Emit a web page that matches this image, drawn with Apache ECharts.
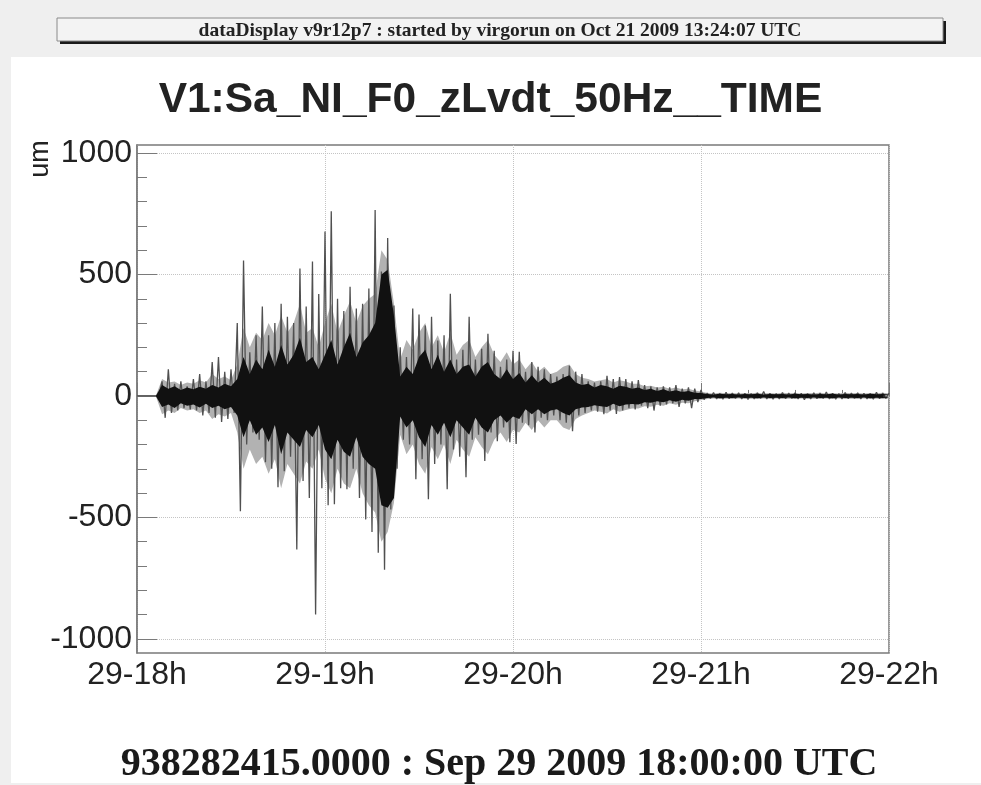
<!DOCTYPE html>
<html><head><meta charset="utf-8">
<script src="https://cdn.jsdelivr.net/npm/echarts@6/dist/echarts.min.js"></script>
<style>html,body{margin:0;padding:0;background:#fff}#c{width:981px;height:785px}</style>
</head><body><div id="c"></div>
<script>
// ---- data ----
const xTickLabels = ['29-18h', '29-19h', '29-20h', '29-21h', '29-22h'];
const xTickStepMinutes = 60;
const yMajorTicks = [-1000, -500, 0, 500, 1000];
const yMinorTicks = [-900, -800, -700, -600, -400, -300, -200, -100, 100, 200, 300, 400, 600, 700, 800, 900];

// spike trace, one value per minute from 18:00 to 22:00 (um)
const spikeValues = [
  0, 0, 0, 0, 0, 0, 0, 0,
  60, -90, 110, -70, 50, -60, 60, -50, 40, -55, 70, -60, 90, -80, 60, -70, 140, -90, 160, -107, 100, -95, 110, -70,
  300, -475, 558, -200, 180, -150, 250, -180, 368, -273, 250, -300, 300, -376, 380, -310, 326, -250, 300, -632, 525, -350, 368, -420, 553, -900, 420, -380,
  677, -450, 760, -446, 400, -380, 350, -384, 450, -300, 360, -420, 380, -508, 442, -560, 765, -645, 512, -715, 650, -467, 372, -300, 200, -180, 160, -200, 360, -343,
  335, -260, 290, -425, 326, -280, 228, -200, 250, -384, 421, -220, 150, -250, 190, -335, 326, -180, 150, -160, 194, -268, 256, -150, 186, -186, 120, -130, 150, -190,
  186, -198, 182, -110, 100, -120, 140, -150, 120, -90, 110, -100, 90, -80, 80, -100, 90, -110, 124, -145, 100, -80, 90, -70, 60, -60, 55, -65, 60, -75,
  83, -60, 70, -74, 78, -60, 70, -50, 60, -55, 65, -40, 45, -50, 40, -60, 35, -40, 40, -35, 35, -30, 45, -45, 30, -30, 35, -50, 30, -25, 25,
  -15, 12, -10, 14, -12, 10, -13, 15, -11, 12,
  -10, 13, -12, 11, -14, 10, -12, 13, -10, 18,
  -12, 11, -13, 10, -12, 14, -11, 12, -10, 13,
  -12, 11, -15, 10, -12, 13, -11, 12, -10, 16,
  -12, 11, -13, 10, -12, 14, -11, 12, -10, 13,
  -12, 11, -12, 10, -13, 15, -11, 12, -10, 12
];
const spikeStepMinutes = 1;

// grey halo envelope (dense thin oscillations), one value every 2 minutes (um)
const haloUpper = [
  0, 0, 0, 0,
  70, 55, 60, 45, 55, 50, 65, 55, 90, 70, 80, 65,
  130, 280, 200, 260, 230, 300, 250, 330, 260, 300, 380, 260, 280, 200,
  300, 380, 260, 330, 390, 300, 370, 400, 420, 600, 560, 380,
  150, 230, 190, 260, 300, 200, 250, 180, 260, 170, 210, 230, 160, 200, 230, 170, 140, 180,
  130, 150, 110, 140, 100, 120, 90, 100, 120, 130,
  90, 75, 70, 60, 65, 70, 55, 65, 60, 50,
  50, 40, 42, 35, 38, 30, 35, 28, 30, 22, 18,
  12, 10, 13, 11, 12, 10, 12, 11, 13, 10, 12, 10, 13, 11, 12, 10, 12, 11, 13, 10, 12, 10, 13, 11, 12, 10, 12, 11, 13, 10
];
const haloLower = [
  0, 0, 0, 0,
  -75, -60, -70, -50, -60, -55, -70, -60, -95, -75, -85, -70,
  -150, -300, -220, -280, -250, -320, -260, -380, -280, -320, -360, -270, -300, -220,
  -340, -400, -300, -360, -380, -300, -400, -450, -480, -600, -560, -440,
  -160, -240, -200, -280, -320, -210, -260, -200, -280, -180, -220, -250, -170, -210, -240, -180, -150, -190,
  -140, -150, -110, -140, -100, -130, -100, -100, -130, -140,
  -95, -80, -70, -60, -65, -72, -55, -65, -58, -52,
  -52, -42, -44, -36, -40, -30, -36, -28, -30, -22, -18,
  -12, -10, -13, -11, -12, -10, -12, -11, -13, -10, -12, -10, -13, -11, -12, -10, -12, -11, -13, -10, -12, -10, -13, -11, -12, -10, -12, -11, -13, -10
];

// dense black core envelope, one value every 2 minutes (um)
const coreUpper = [
  0, 0, 0, 0,
  45, 30, 40, 25, 35, 28, 38, 30, 45, 35, 50, 40,
  70, 160, 90, 150, 110, 190, 120, 210, 130, 170, 240, 140, 160, 110,
  170, 230, 130, 200, 260, 160, 220, 250, 300, 500, 520, 330,
  80, 120, 90, 160, 190, 110, 170, 100, 150, 90, 120, 130, 80, 120, 140, 90, 70, 110,
  70, 95, 55, 85, 55, 75, 50, 60, 75, 85,
  55, 45, 50, 35, 45, 40, 30, 42, 38, 30,
  35, 25, 30, 20, 28, 18, 24, 16, 20, 13, 12,
  8, 6, 9, 7, 8, 6, 8, 7, 9, 6, 8, 7, 8, 6, 9, 7, 8, 6, 8, 7, 9, 6, 8, 7, 8, 6, 9, 7, 8, 6
];
const coreLower = [
  0, 0, 0, 0,
  -45, -35, -50, -30, -40, -35, -48, -32, -50, -40, -55, -45,
  -80, -170, -100, -160, -130, -190, -120, -240, -150, -180, -210, -140, -170, -120,
  -220, -260, -180, -230, -250, -170, -250, -280, -300, -450, -460, -420,
  -85, -130, -100, -170, -210, -120, -160, -110, -170, -100, -130, -160, -90, -130, -150, -100, -80, -110,
  -85, -95, -55, -75, -55, -75, -60, -55, -70, -80,
  -55, -48, -45, -38, -42, -45, -32, -42, -35, -33,
  -35, -26, -28, -22, -26, -18, -24, -16, -20, -13, -12,
  -8, -6, -9, -7, -8, -6, -8, -7, -9, -6, -8, -7, -8, -6, -9, -7, -8, -6, -8, -7, -9, -6, -8, -7, -8, -6, -9, -7, -8, -6
];
const envelopeStepMinutes = 2;

// ---- chart ----
const toPairs = (arr, step) => arr.map((v, i) => [i * step, v]);
const chart = echarts.init(document.getElementById('c'), null, { renderer: 'canvas' });
const sans = 'Liberation Sans, Helvetica, Arial, sans-serif';
const serif = 'Liberation Serif, Times New Roman, serif';

function band(name, values, color, z) {
  return {
    type: 'line', name, data: toPairs(values, envelopeStepMinutes), yAxisIndex: 0,
    showSymbol: false, symbol: 'none', z,
    lineStyle: { width: 0, color }, areaStyle: { color, opacity: 1 }
  };
}

chart.setOption({
  animation: false,
  backgroundColor: '#efefef',
  graphic: [
    { type: 'rect', z: -10, shape: { x: 11, y: 57, width: 970, height: 726 }, style: { fill: '#ffffff' } },
    { type: 'rect', z: 1, shape: { x: 60, y: 21, width: 886, height: 23 }, style: { fill: '#1a1a1a' } },
    { type: 'rect', z: 2, shape: { x: 57, y: 18, width: 886, height: 23 }, style: { fill: '#f3f3f3', stroke: '#8a8a8a', lineWidth: 1 } },
    { type: 'text', z: 3, style: { text: 'dataDisplay v9r12p7 : started by virgorun on Oct 21 2009 13:24:07 UTC', x: 500, y: 31, textAlign: 'center', textVerticalAlign: 'middle', font: 'bold 19.5px ' + serif, fill: '#222' } },
    { type: 'text', z: 3, x: 41, y: 159, rotation: Math.PI / 2, style: { text: 'um', x: 0, y: 0, textAlign: 'center', textVerticalAlign: 'middle', font: '27px ' + sans, fill: '#222' } },
    { type: 'text', z: 3, style: { text: '938282415.0000 : Sep 29 2009 18:00:00 UTC', x: 499, y: 765, textAlign: 'center', textVerticalAlign: 'middle', font: 'bold 40px ' + serif, fill: '#1a1a1a' } }
  ],
  title: {
    text: 'V1:Sa_NI_F0_zLvdt_50Hz__TIME',
    left: 'center', top: 74,
    textStyle: { fontFamily: sans, fontWeight: 'bold', fontSize: 42.5, color: '#222' }
  },
  grid: { left: 137, top: 145, width: 752, height: 508, show: true, borderColor: '#7a7a7a', borderWidth: 1.5, backgroundColor: 'transparent', outerBoundsMode: 'none' },
  xAxis: {
    type: 'value', min: 0, max: 240, interval: xTickStepMinutes,
    axisLine: { show: true, lineStyle: { color: '#7a7a7a', width: 1.5 } },
    axisTick: { show: true, inside: true, length: 13, lineStyle: { color: '#7a7a7a' } },
    minorTick: { show: true, splitNumber: 4, length: 6, lineStyle: { color: '#7a7a7a' } },
    splitLine: { show: true, lineStyle: { type: 'dotted', color: '#c4c4c4' } },
    axisLabel: { formatter: v => xTickLabels[Math.round(v / xTickStepMinutes)], fontFamily: sans, fontSize: 32, color: '#222', margin: 6 }
  },
  yAxis: [
    {
      type: 'value', min: -1058, max: 1033, position: 'left',
      axisLine: { show: true, lineStyle: { color: '#7a7a7a', width: 1.5 } },
      axisTick: { show: true, inside: true, length: 20, customValues: yMajorTicks, lineStyle: { color: '#7a7a7a' } },
      axisLabel: { customValues: yMajorTicks, formatter: v => String(v), fontFamily: sans, fontSize: 32, color: '#222', margin: 5 },
      splitLine: { show: true, lineStyle: { type: 'dotted', color: '#c4c4c4' } }
    },
    {
      type: 'value', min: -1058, max: 1033, position: 'left', offset: 0,
      axisLine: { show: false },
      axisTick: { show: true, inside: true, length: 10, customValues: yMinorTicks, lineStyle: { color: '#7a7a7a' } },
      axisLabel: { show: false },
      splitLine: { show: false }
    }
  ],
  series: [
    band('haloUpper', haloUpper, '#b2b2b2', 1),
    band('haloLower', haloLower, '#b2b2b2', 1),
    {
      type: 'line', name: 'spikes', data: toPairs(spikeValues, spikeStepMinutes), yAxisIndex: 0,
      showSymbol: false, symbol: 'none', z: 2,
      lineStyle: { color: '#505050', width: 1.3 }
    },
    band('coreUpper', coreUpper, '#111111', 3),
    band('coreLower', coreLower, '#111111', 3)
  ]
});
</script></body></html>
